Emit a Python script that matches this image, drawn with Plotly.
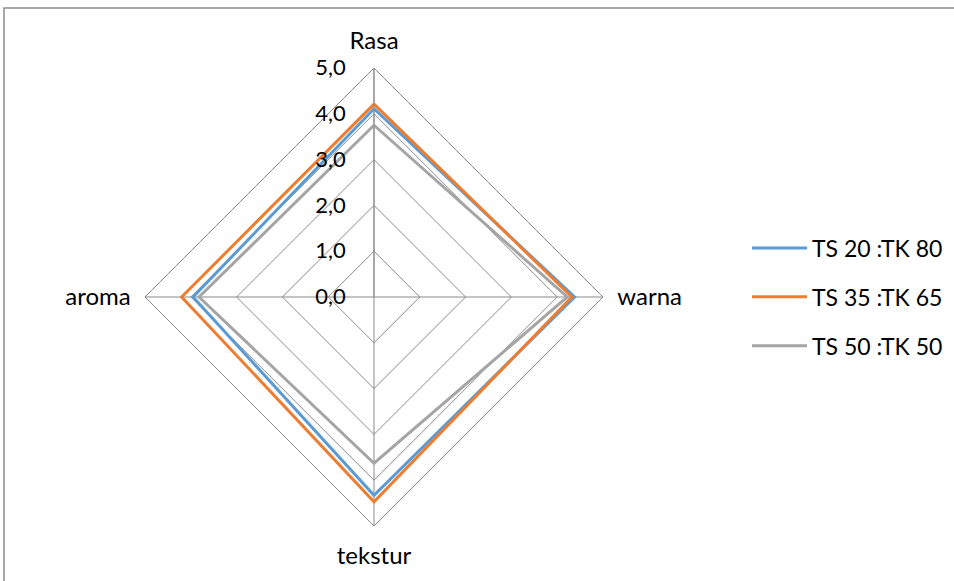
import plotly.graph_objects as go

categories = ["Rasa", "warna", "tekstur", "aroma"]
series_names = ["TS 20 :TK 80", "TS 35 :TK 65", "TS 50 :TK 50"]
ts20 = [4.11, 4.38, 4.33, 3.95]
ts35 = [4.21, 4.32, 4.47, 4.20]
ts50 = [3.75, 4.22, 3.63, 3.82]
colors = ["#5B9BD5", "#ED7D31", "#A5A5A5"]
radial_ticks = [0, 1, 2, 3, 4, 5]

W, H = 954, 581
cx, cy, R = 374, 297, 229

fig = go.Figure()
for name, vals, col in zip(series_names, [ts20, ts35, ts50], colors):
    fig.add_trace(go.Scatterpolar(
        r=vals + vals[:1], theta=categories + categories[:1],
        mode="lines", name=name, legendgroup=name,
        line=dict(color=col, width=3),
    ))

font = "Lato, 'Open Sans', sans-serif"
FS = 23
GRID = "#8a8a8a"
fig.update_layout(
    width=W, height=H,
    margin=dict(l=0, r=0, t=0, b=0),
    paper_bgcolor="white", plot_bgcolor="white",
    separators=",.",
    font=dict(family=font, size=FS, color="#000000"),
    polar=dict(
        domain=dict(x=[(cx - R) / W, (cx + R) / W], y=[(H - cy - R) / H, (H - cy + R) / H]),
        gridshape="linear",
        bgcolor="white",
        radialaxis=dict(
            range=[0, 5], tickvals=radial_ticks, tickformat=".1f",
            angle=90, tickangle=90, side="counterclockwise",
            showline=True, linecolor=GRID, linewidth=1,
            gridcolor=GRID, gridwidth=1,
            ticks="outside", ticklen=20, tickcolor="rgba(0,0,0,0)",
            tickfont=dict(size=22, color="#000000"),
        ),
        angularaxis=dict(
            rotation=90, direction="clockwise",
            showline=True, linecolor=GRID, linewidth=1,
            gridcolor=GRID, gridwidth=1,
            ticks="outside", ticklen=9, tickcolor="rgba(0,0,0,0)",
            tickfont=dict(size=24, color="#000000"),
        ),
    ),
    legend=dict(
        x=747 / W, y=(H - 297) / H, xanchor="left", yanchor="middle",
        tracegroupgap=16, itemwidth=55,
        font=dict(size=FS, color="#000000"),
        bgcolor="rgba(0,0,0,0)",
    ),
    shapes=[dict(type="rect", xref="paper", yref="paper",
                 x0=4 / W, x1=1.05, y0=-0.05, y1=(H - 8) / H,
                 line=dict(color="#8c8c8c", width=1.5), fillcolor="rgba(0,0,0,0)")],
)

fig.write_html("out.html", config={"displayModeBar": False},
               post_script="document.body.style.margin='0';")
